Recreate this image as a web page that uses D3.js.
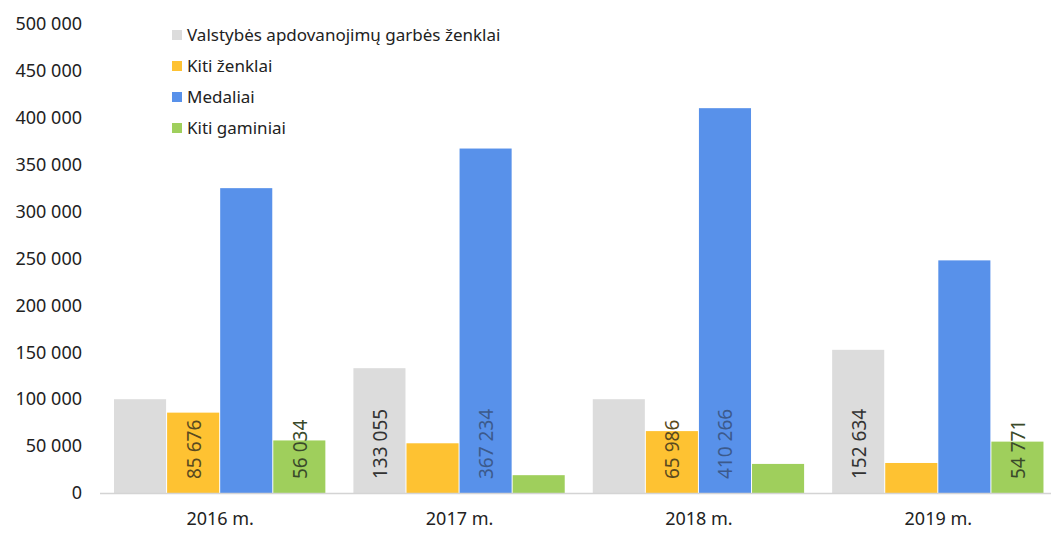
<!DOCTYPE html>
<html>
<head>
<meta charset="utf-8">
<script src="https://cdn.jsdelivr.net/npm/d3@7"></script>
<style>
  html, body { margin: 0; padding: 0; background: #fff; }
  svg { display: block; font-family: "Noto Sans", "Open Sans", sans-serif; }
</style>
</head>
<body>
<svg id="chart" width="1051" height="533"></svg>
<script>
// ---- data ----
const years = ["2016 m.", "2017 m.", "2018 m.", "2019 m."];
const seriesNames = ["Valstybės apdovanojimų garbės ženklai", "Kiti ženklai", "Medaliai", "Kiti gaminiai"];
const valstybes = [100000, 133055, 100000, 152634];
const kitiZenklai = [85676, 53000, 65986, 32000];
const medaliai = [325000, 367234, 410266, 248000];
const kitiGaminiai = [56034, 19000, 31000, 54771];
// which values are printed as labels (null = no label)
const labelValstybes = [null, 133055, null, 152634];
const labelKitiZenklai = [85676, null, 65986, null];
const labelMedaliai = [null, 367234, 410266, null];
const labelKitiGaminiai = [56034, null, null, 54771];
const yTicks = [0, 50000, 100000, 150000, 200000, 250000, 300000, 350000, 400000, 450000, 500000];

const colors = ["#dcdcdc", "#fec232", "#5891ea", "#9fcf5c"];
const labelColors = ["#333333", "#5a4a20", "#3c5a8c", "#3a4a2a"];

const seriesValues = [valstybes, kitiZenklai, medaliai, kitiGaminiai];
const seriesLabels = [labelValstybes, labelKitiZenklai, labelMedaliai, labelKitiGaminiai];

const svg = d3.select("#chart");
const fmt = v => d3.format(",")(v).replace(/,/g, " ");

const y = d3.scaleLinear().domain([0, 500000]).range([493, 24]);
const x0 = d3.scaleBand().domain(years).range([100.5, 1058])
  .paddingInner(0.113).paddingOuter(0.0565);
const x1 = d3.scaleBand().domain(d3.range(seriesNames.length)).range([0, x0.bandwidth()]).padding(0);

// y axis labels
const yAxis = d3.axisLeft(y).tickValues(yTicks).tickFormat(fmt).tickSize(0).tickPadding(0);
const gy = svg.append("g").attr("transform", "translate(82,0)").call(yAxis);
gy.select(".domain").remove();
gy.selectAll("text").attr("font-size", 18).attr("fill", "#222").attr("font-family", "Noto Sans, sans-serif");

// bars
const groups = svg.append("g").selectAll("g").data(years).join("g")
  .attr("transform", d => `translate(${x0(d)},0)`);

groups.each(function(yr, i) {
  const g = d3.select(this);
  seriesValues.forEach((vals, s) => {
    g.append("rect")
      .attr("x", x1(s))
      .attr("width", x1.bandwidth() - 1)
      .attr("y", y(vals[i]))
      .attr("height", y(0) - y(vals[i]))
      .attr("fill", colors[s]);
    const lab = seriesLabels[s][i];
    if (lab !== null) {
      const cx = x1(s) + x1.bandwidth() / 2;
      g.append("text")
        .attr("transform", `translate(${cx + 7},${y(0) - 14}) rotate(-90)`)
        .attr("text-anchor", "start")
        .attr("font-size", 19)
        .attr("fill", labelColors[s])
        .text(fmt(lab));
    }
  });
});

// x axis baseline
svg.append("line").attr("x1", 100).attr("x2", 1051).attr("y1", y(0) + 0.5).attr("y2", y(0) + 0.5)
  .attr("stroke", "#d4d4d4").attr("stroke-width", 1.5);

const xAxis = d3.axisBottom(x0).tickSize(0).tickPadding(0);
const gx = svg.append("g").attr("transform", `translate(0,${y(0) + 19})`).call(xAxis);
gx.select(".domain").remove();
gx.selectAll("text").attr("font-size", 18).attr("fill", "#222").attr("font-family", "Noto Sans, sans-serif")
  .attr("dy", "0.71em");

// legend
const legend = svg.append("g").selectAll("g").data(seriesNames).join("g")
  .attr("transform", (d, i) => `translate(172,${35 + i * 31})`);
legend.append("rect").attr("x", 0).attr("y", -5).attr("width", 10).attr("height", 10)
  .attr("fill", (d, i) => colors[i]);
legend.append("text").attr("x", 15).attr("dy", "0.35em").attr("font-size", 17)
  .attr("fill", "#222").text(d => d);
</script>
</body>
</html>
